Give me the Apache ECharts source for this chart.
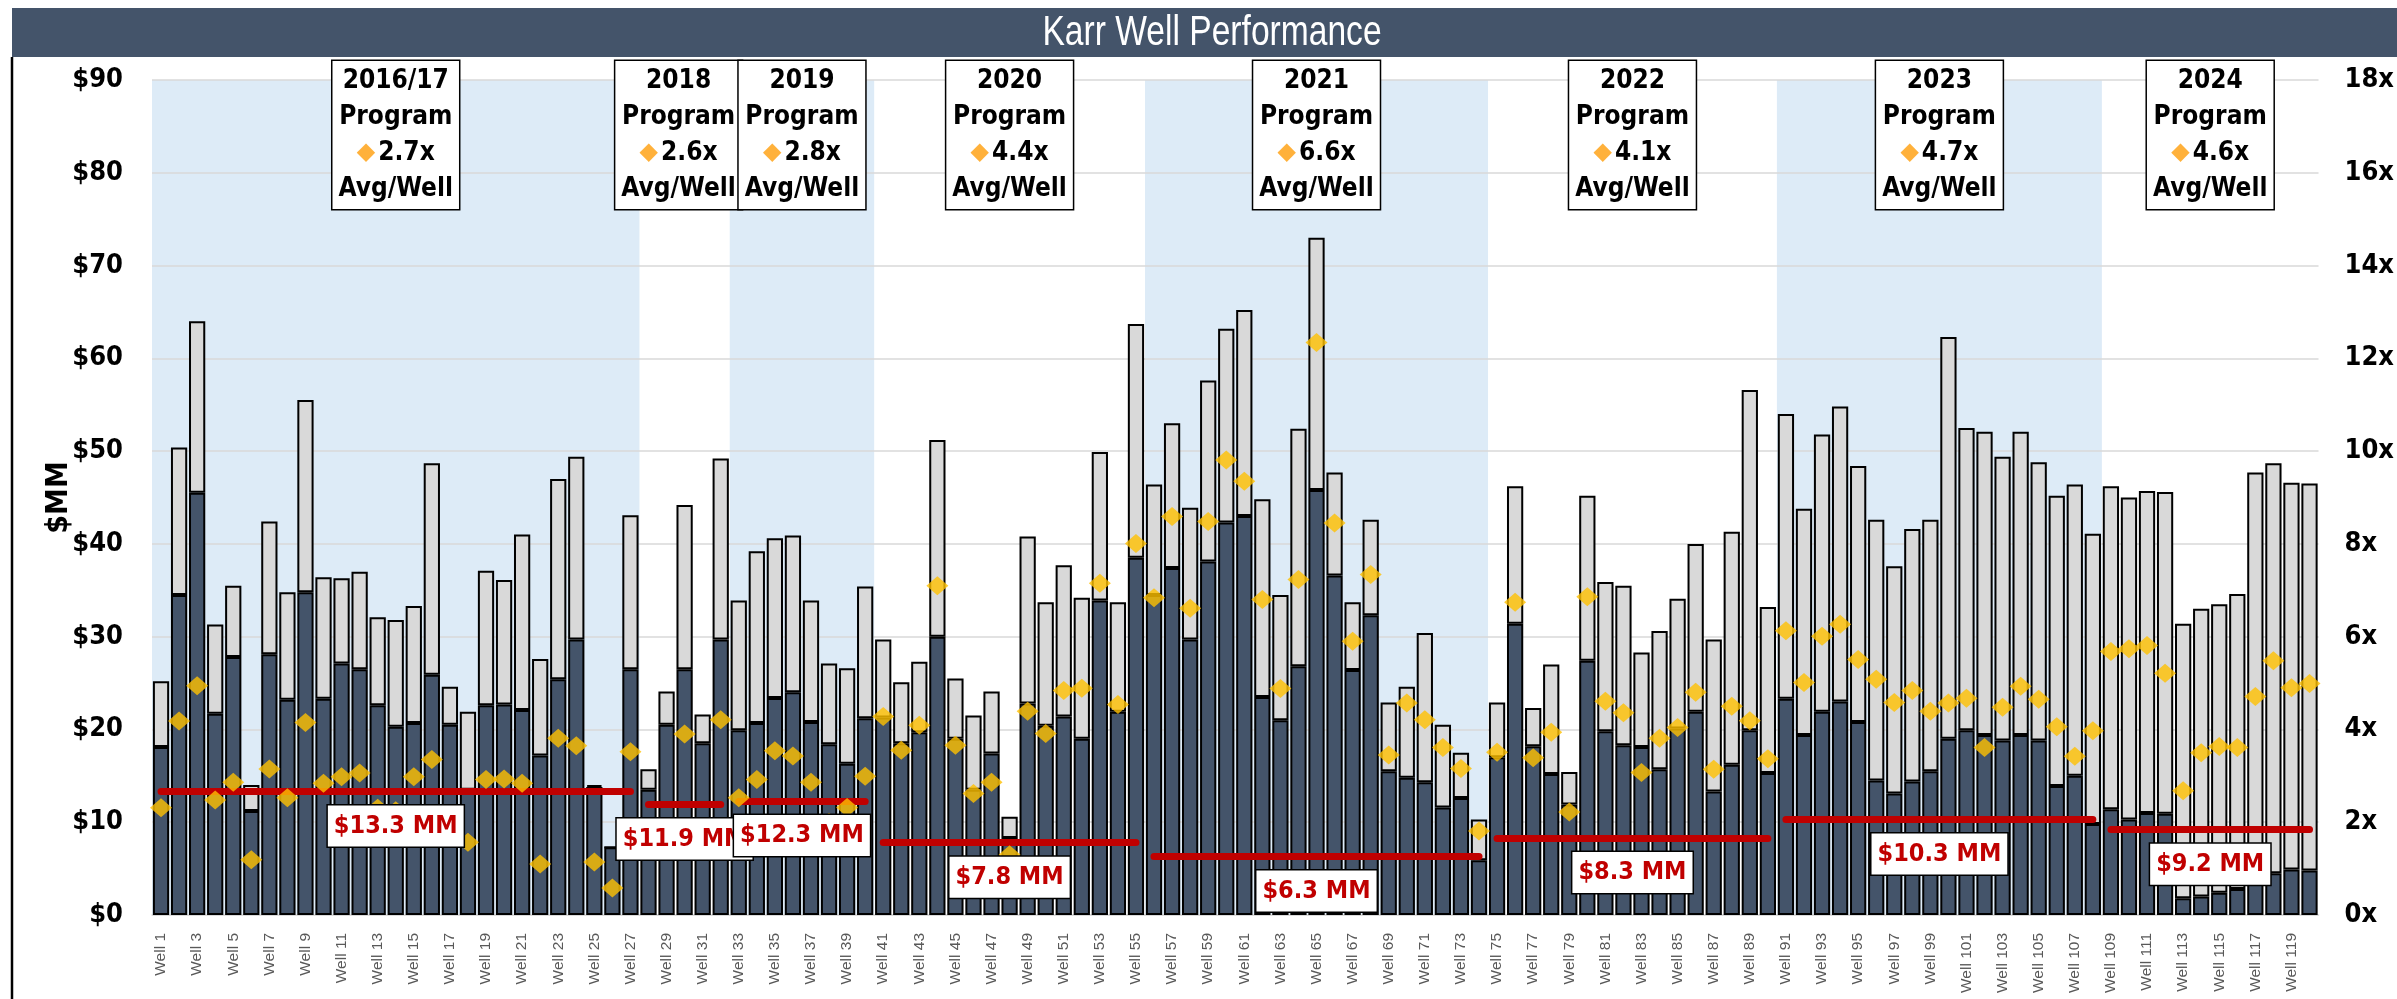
<!DOCTYPE html>
<html><head><meta charset="utf-8">
<script src="https://cdn.jsdelivr.net/npm/echarts@6/dist/echarts.min.js"></script>
<style>html,body{margin:0;padding:0;background:#fff}#c{width:2397px;height:999px}</style>
</head><body><div id="c"></div>
<script>
const wells = [];
for (let i = 1; i <= 120; i++) wells.push('Well ' + i);

// $MM – lower (dark) portion of each bar
const darkValue = [
18.1,34.5,45.5,21.7,27.8,11.2,28.1,23.2,34.8,23.3,
27.1,26.5,22.6,20.3,20.7,25.9,20.5,13.5,22.6,22.7,
22.1,17.2,25.4,29.7,13.8,7.3,26.5,13.5,20.5,26.5,
18.5,29.7,19.9,20.7,23.4,24.0,20.8,18.4,16.3,21.2,
21.3,18.5,19.7,30.0,19.0,13.5,17.4,8.3,22.8,20.4,
21.4,19.0,33.9,21.9,38.5,34.5,37.4,29.7,38.1,42.3,
43.0,23.5,21.0,26.8,45.8,36.6,26.4,32.3,15.5,14.8,
14.3,11.6,12.6,5.9,17.0,31.4,18.2,15.2,11.9,27.4,
19.8,18.3,18.1,15.7,20.1,21.9,13.3,16.2,19.9,15.3,
23.3,19.4,21.9,23.0,20.8,14.5,13.1,14.4,15.5,19.0,
19.9,19.4,18.8,19.4,18.8,13.9,15.0,9.8,11.4,10.3,
11.0,10.9,1.8,2.0,2.4,2.8,3.5,4.5,4.9,4.8];

// $MM – total bar height
const totalValue = [
25.2,50.4,64.0,31.3,35.5,14.0,42.4,34.8,55.5,36.4,
36.3,37.0,32.1,31.8,33.3,48.7,24.6,21.9,37.1,36.1,
41.0,27.6,47.0,49.4,14.0,7.3,43.1,15.7,24.1,44.2,
21.6,49.2,33.9,39.2,40.6,40.9,33.9,27.1,26.6,35.4,
29.7,25.1,27.3,51.2,25.5,21.5,24.1,10.6,40.8,33.7,
37.7,34.2,49.9,33.7,63.7,46.4,53.0,43.9,57.6,63.2,
65.2,44.8,34.5,52.4,73.0,47.7,33.7,42.6,22.9,24.6,
30.4,20.5,17.5,10.3,22.9,46.2,22.3,27.0,15.4,45.2,
35.9,35.5,28.3,30.6,34.1,40.0,29.7,41.3,56.6,33.2,
54.0,43.8,51.8,54.8,48.4,42.6,37.6,41.6,42.6,62.3,
52.5,52.1,49.4,52.1,48.8,45.2,46.4,41.1,46.2,45.0,
45.7,45.6,31.4,33.0,33.5,34.6,47.7,48.7,46.6,46.5];

// multiple (right axis)
const multipleValue = [
2.31,4.18,4.94,2.48,2.86,1.19,3.15,2.53,4.15,2.84,
2.98,3.06,2.30,2.25,2.98,3.35,2.10,1.57,2.92,2.93,
2.84,1.10,3.81,3.65,1.14,0.58,3.52,1.70,1.90,3.90,
1.60,4.21,2.53,2.92,3.54,3.43,2.86,2.00,2.32,2.99,
4.28,3.55,4.09,7.10,3.66,2.62,2.86,1.30,4.39,3.91,
4.84,4.89,7.15,4.54,8.01,6.84,8.59,6.61,8.48,9.81,
9.35,6.80,4.88,7.23,12.34,8.45,5.90,7.34,3.45,4.57,
4.21,3.61,3.16,1.81,3.51,6.74,3.39,3.94,2.22,6.86,
4.61,4.36,3.07,3.81,4.04,4.80,3.14,4.50,4.19,3.37,
6.13,5.01,6.01,6.27,5.51,5.08,4.58,4.84,4.39,4.57,
4.67,3.61,4.48,4.93,4.65,4.06,3.42,3.97,5.68,5.74,
5.81,5.21,2.68,3.50,3.63,3.61,4.71,5.48,4.90,4.99];

const programNames = ['2016/17','2018','2019','2020','2021','2022','2023','2024'];
const programFirstWell = [1,28,33,41,56,75,91,109];
const programLastWell = [27,32,40,55,74,90,108,120];
const programMultiple = ['2.7x','2.6x','2.8x','4.4x','6.6x','4.1x','4.7x','4.6x'];
const programCost = [13.3,11.9,12.3,7.8,6.3,8.3,10.3,9.2];
const programShaded = [true,false,true,false,true,false,true,false];

const leftTicks = {min:0, max:90, interval:10};
const rightTicks = {min:0, max:18, interval:2};

const NARROW = "'Liberation Sans Narrow','Arial Narrow','DejaVu Sans Condensed',sans-serif";
const upperValue = totalValue.map((t,i)=>Math.max(0, +(t - darkValue[i]).toFixed(2)));

const bandData = [], boxData = [], lineData = [], labelData = [];
programNames.forEach((p,i)=>{
  const s = programFirstWell[i]-1, e = programLastWell[i];
  if (programShaded[i]) bandData.push([{xAxis:s, yAxis:leftTicks.max},{xAxis:e, yAxis:0}]);
  boxData.push([{xAxis:s, yAxis:leftTicks.max,
      label:{formatter:`{t|${p}}\n{t|Program}\n{d|◆}{t|${programMultiple[i]}}\n{t|Avg/Well}`,
             offset:[p==='2018'?-6:0,-19]}},
    {xAxis:e, yAxis:0}]);
  lineData.push([{coord:[s+0.5, programCost[i]]},{coord:[e-0.5, programCost[i]]}]);
  labelData.push([{coord:[s+0.5, programCost[i]], label:{formatter:'$'+programCost[i].toFixed(1)+' MM'}},
                  {coord:[e-0.5, programCost[i]]}]);
});

const chart = echarts.init(document.getElementById('c'), null, {renderer:'canvas'});
chart.setOption({
  animation:false,
  backgroundColor:'#fff',
  grid:{left:152, right:66, top:80, bottom:84, containLabel:false},
  graphic:[
    {type:'rect', shape:{x:12,y:8,width:2385,height:49}, style:{fill:'#44546A'}, z:100},
    {type:'text', x:1212, y:33, scaleX:0.8, style:{text:'Karr Well Performance', fill:'#fff',
      font:"42px 'Liberation Sans'", textAlign:'center', textVerticalAlign:'middle'}, z:101},
    {type:'line', shape:{x1:12,y1:57,x2:12,y2:999}, style:{stroke:'#000', lineWidth:2.5}, z:100}
  ],
  xAxis:[
    {type:'category', data:wells, boundaryGap:true,
     axisLine:{lineStyle:{color:'#D9D9D9', width:1.5}}, axisTick:{show:false},
     axisLabel:{interval:1, rotate:90, color:'#595959', fontSize:15.5, fontFamily:"'Liberation Sans'", margin:18},
     splitLine:{show:false}},
    {type:'value', min:0, max:120, show:false}
  ],
  yAxis:[
    {type:'value', min:leftTicks.min, max:leftTicks.max, interval:leftTicks.interval,
     name:'$MM', nameLocation:'middle', nameGap:78, nameMoveOverlap:false,
     nameTextStyle:{fontFamily:NARROW, fontWeight:'bold', fontSize:30, color:'#000'},
     axisLine:{show:false}, axisTick:{show:false},
     axisLabel:{formatter:'${value}', fontFamily:NARROW, fontWeight:'bold', fontSize:27, color:'#000', margin:29},
     splitLine:{lineStyle:{color:'#D9D9D9', width:1.5}}},
    {type:'value', min:rightTicks.min, max:rightTicks.max, interval:rightTicks.interval, position:'right',
     axisLine:{show:false}, axisTick:{show:false},
     axisLabel:{formatter:'{value}x', fontFamily:NARROW, fontWeight:'bold', fontSize:27, color:'#000', margin:26},
     splitLine:{show:false}}
  ],
  series:[
    {type:'line', name:'bands', xAxisIndex:1, yAxisIndex:0, data:[], silent:true, z:-5,
     markArea:{silent:true, z:-5, itemStyle:{color:'#DDEBF7'}, label:{show:false}, data:bandData}},
    {type:'bar', name:'Lower', stack:'v', data:darkValue, barCategoryGap:'10%', z:2,
     itemStyle:{color:'#44546A', borderColor:'#000', borderWidth:2}},
    {type:'bar', name:'Upper', stack:'v', data:upperValue, z:2,
     itemStyle:{color:'#D9D9D9', borderColor:'#000', borderWidth:2}},
    {type:'line', name:'avgLine', xAxisIndex:1, yAxisIndex:0, data:[], silent:true, z:3,
     markLine:{silent:true, z:3, symbol:['none','none'], label:{show:false},
       lineStyle:{color:'#C00000', width:7, type:'solid', cap:'round'}, data:lineData}},
    {type:'scatter', name:'Multiple', xAxisIndex:0, yAxisIndex:1, data:multipleValue, z:6,
     symbol:'diamond', symbolSize:[22,19], itemStyle:{color:'#FFC000'}},
    {type:'line', name:'avgLabel', xAxisIndex:1, yAxisIndex:0, data:[], silent:true, z:8,
     markLine:{silent:true, z:8, symbol:['none','none'],
       lineStyle:{color:'rgba(255,255,255,0)', width:1, type:'solid'},
       label:{show:true, position:'insideMiddleBottom', distance:14,
         color:'#C00000', fontFamily:NARROW, fontWeight:'bold', fontSize:25, lineHeight:30,
         backgroundColor:'#fff', borderColor:'#000', borderWidth:1.5, padding:[6,6,5,6]},
       data:labelData}},
    {type:'line', name:'programBoxes', xAxisIndex:1, yAxisIndex:0, data:[], silent:true, z:9,
     markArea:{silent:true, z:9, itemStyle:{color:'rgba(0,0,0,0)'},
       label:{show:true, position:'insideTop', distance:0,
         backgroundColor:'#fff', borderColor:'#000', borderWidth:1.5, padding:[2,6,2,6],
         rich:{t:{fontFamily:NARROW, fontWeight:'bold', fontSize:26, lineHeight:36, color:'#000'},
               d:{fontFamily:'DejaVu Sans', fontSize:24, lineHeight:36, color:'#FFB13B', padding:[0,3,0,0]}}},
       data:boxData}}
  ]
});
</script></body></html>
